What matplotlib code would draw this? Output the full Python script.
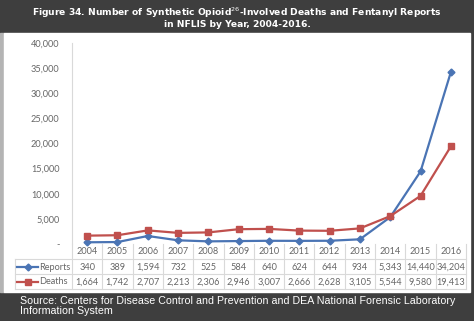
import matplotlib
matplotlib.use('Agg')
import matplotlib.pyplot as plt
import matplotlib.patches as mpatches
import matplotlib.ticker as mticker
from matplotlib.transforms import blended_transform_factory
from matplotlib.lines import Line2D

years = ['2004', '2005', '2006', '2007', '2008', '2009', '2010',
         '2011', '2012', '2013', '2014', '2015', '2016']
reports = [340, 389, 1594, 732, 525, 584, 640, 624, 644, 934, 5343, 14440, 34204]
deaths = [1664, 1742, 2707, 2213, 2306, 2946, 3007, 2666, 2628, 3105, 5544, 9580, 19413]
yticks = [0, 5000, 10000, 15000, 20000, 25000, 30000, 35000, 40000]

W, H = 474, 321
blue = '#4a74b4'
red = '#c0504d'
grey_txt = '#666666'
grid_col = '#d9d9d9'
dark = '#3e3e3e'
fs = 6.6

def fx(px):
    return px / W

def fy(py):
    return 1 - py / H

fig = plt.figure(figsize=(W / 100, H / 100), dpi=100, facecolor=dark)

# white panel with light strip on the left
fig.add_artist(mpatches.Rectangle((fx(0), fy(292)), fx(4), fy(33) - fy(292),
                                  transform=fig.transFigure, color='#b4b4b4', zorder=-5))
fig.add_artist(mpatches.Rectangle((fx(4), fy(292)), fx(466), fy(33) - fy(292),
                                  transform=fig.transFigure, color='white', zorder=-5))

fig.text(0.5, fy(17), 'Figure 34. Number of Synthetic Opioid$^{26}$-Involved Deaths and Fentanyl Reports\nin NFLIS by Year, 2004-2016.',
         ha='center', va='center', color='white', fontsize=6.6, fontweight='bold',
         family='DejaVu Sans', linespacing=1.05)

fig.text(fx(20), fy(306), 'Source: Centers for Disease Control and Prevention and DEA National Forensic Laboratory\nInformation System',
         ha='left', va='center', color='white', fontsize=7.7, family='Liberation Sans', linespacing=0.95)

left, right, top, bottom = 72, 466, 43, 244
ax = fig.add_axes([fx(left), fy(bottom), fx(right - left), fy(top) - fy(bottom)])
ax.set_zorder(2)
ax.set_facecolor('none')
x = list(range(len(years)))
ax.plot(x, reports, color=blue, lw=1.6, marker='D', ms=3.5, clip_on=False)
ax.plot(x, deaths, color=red, lw=1.6, marker='s', ms=5, clip_on=False)
ax.set_xlim(-0.5, len(years) - 0.5)
ax.set_ylim(0, 40000)
ax.set_yticks(yticks)
ax.yaxis.set_major_formatter(mticker.FuncFormatter(lambda v, p: '-' if v == 0 else f'{int(v):,}'))
ax.tick_params(axis='y', length=0, labelsize=fs, labelcolor=grey_txt, pad=9)
ax.set_xticks([])
for s in ['top', 'right', 'bottom']:
    ax.spines[s].set_visible(False)
ax.spines['left'].set_color(grid_col)
for lab in ax.get_yticklabels():
    lab.set_family('Lato')

# data table below the plot
tr = blended_transform_factory(ax.transData, fig.transFigure)
rows_y = [252, 267, 282]
lines_y = [244, 259, 274, 289]
for i in range(len(years) + 1):
    xs = i - 0.5
    fig.add_artist(Line2D([xs, xs], [fy(244), fy(289)], transform=tr, color=grid_col, lw=0.8))
for py in lines_y[1:]:
    fig.add_artist(Line2D([fx(15), fx(466)], [fy(py), fy(py)], transform=fig.transFigure, color=grid_col, lw=0.8))
fig.add_artist(Line2D([fx(15), fx(15)], [fy(259), fy(289)], transform=fig.transFigure, color=grid_col, lw=0.8))

for i, yr in enumerate(years):
    fig.text(i, fy(rows_y[0]), yr, transform=tr, ha='center', va='center', fontsize=fs, color=grey_txt, family='Lato')
    fig.text(i, fy(rows_y[1]), f'{reports[i]:,}', transform=tr, ha='center', va='center', fontsize=fs, color=grey_txt, family='Lato')
    fig.text(i, fy(rows_y[2]), f'{deaths[i]:,}', transform=tr, ha='center', va='center', fontsize=fs, color=grey_txt, family='Lato')

for py, col, mk, ms, name in [(rows_y[1], blue, 'D', 3.5, 'Reports'), (rows_y[2], red, 's', 5, 'Deaths')]:
    fig.add_artist(Line2D([fx(17), fx(38)], [fy(py), fy(py)], transform=fig.transFigure, color=col, lw=1.6))
    fig.add_artist(Line2D([fx(27.5)], [fy(py)], transform=fig.transFigure, color=col, marker=mk, ms=ms, lw=0))
    fig.text(fx(39.5), fy(py), name, ha='left', va='center', fontsize=fs, color=grey_txt, family='Lato')

fig.savefig('out.png', dpi=100, facecolor=fig.get_facecolor())
